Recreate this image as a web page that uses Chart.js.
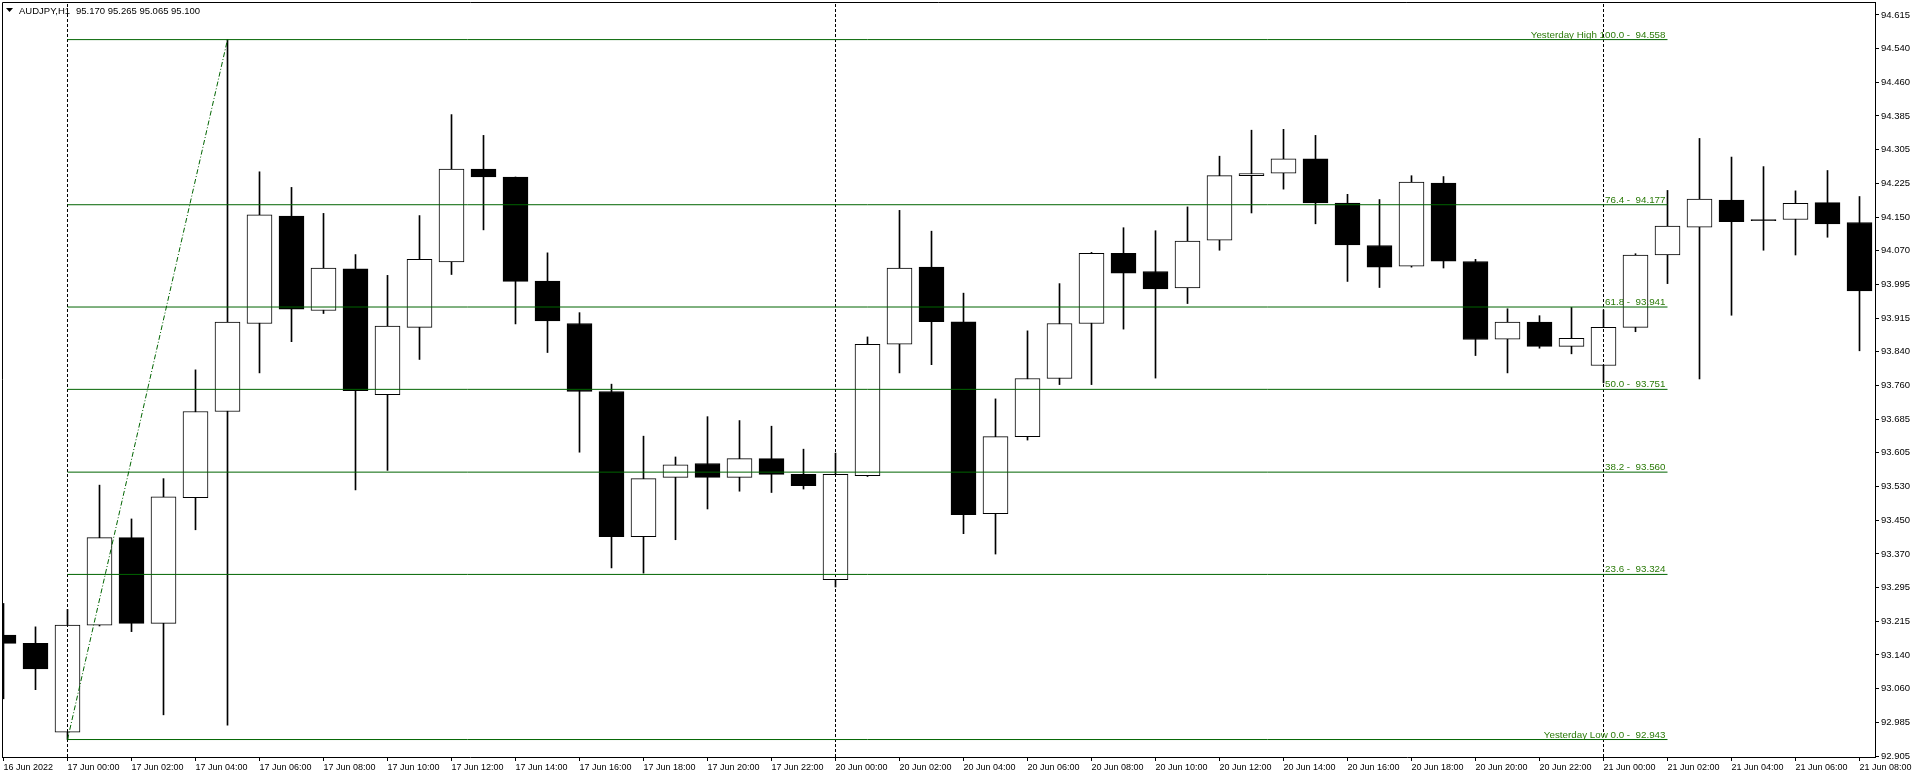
<!DOCTYPE html>
<html>
<head>
<meta charset="utf-8">
<title>AUDJPY,H1</title>
<script src="https://cdn.jsdelivr.net/npm/chart.js@4.4.0/dist/chart.umd.min.js"></script>
<style>
  html, body { margin: 0; padding: 0; background: #fff; }
  canvas { display: block; }
</style>
</head>
<body>
<canvas id="candles" width="1916" height="778"></canvas>
<script>
const symbol = 'AUDJPY,H1';
const lastQuote = '95.170 95.265 95.065 95.100';

// hourly bars, 16 Jun 22:00 -> 21 Jun 08:00
const opens = [
    93.184, 93.165, 92.960, 93.207, 93.409, 93.211, 93.501, 93.700, 93.903, 94.151,
    93.933, 94.029, 93.739, 93.894, 94.045, 94.259, 94.241, 94.001, 93.903, 93.746,
    93.411, 93.548, 93.580, 93.548, 93.591, 93.555, 93.312, 93.552, 93.855, 94.033,
    93.907, 93.464, 93.642, 93.776, 93.903, 94.065, 94.023, 93.985, 94.095, 94.244,
    94.250, 94.283, 94.181, 94.083, 94.035, 94.227, 94.046, 93.867, 93.906, 93.850,
    93.806, 93.894, 94.061, 94.125, 94.188, 94.143, 94.143, 94.182, 94.136
];
const highs = [
    93.257, 93.203, 93.243, 93.530, 93.452, 93.545, 93.796, 94.558, 94.253, 94.217,
    94.157, 94.062, 94.014, 94.152, 94.385, 94.337, 94.241, 94.066, 93.928, 93.763,
    93.643, 93.595, 93.688, 93.679, 93.666, 93.613, 93.604, 93.872, 94.164, 94.116,
    93.973, 93.729, 93.886, 93.995, 94.067, 94.124, 94.117, 94.172, 94.289, 94.349,
    94.351, 94.337, 94.201, 94.189, 94.244, 94.242, 94.051, 93.937, 93.921, 93.940,
    93.934, 94.064, 94.210, 94.330, 94.287, 94.265, 94.209, 94.256, 94.196
];
const lows = [
    93.037, 93.058, 92.943, 93.205, 93.192, 93.000, 93.427, 92.976, 93.789, 93.861,
    93.926, 93.519, 93.564, 93.820, 94.016, 94.119, 93.902, 93.836, 93.606, 93.339,
    93.327, 93.404, 93.475, 93.516, 93.513, 93.521, 93.295, 93.550, 93.789, 93.808,
    93.418, 93.371, 93.634, 93.762, 93.762, 93.890, 93.777, 93.949, 94.072, 94.158,
    94.213, 94.133, 94.000, 93.986, 94.033, 94.031, 93.829, 93.789, 93.846, 93.833,
    93.766, 93.884, 93.995, 93.775, 93.922, 94.072, 94.061, 94.102, 93.840
];
const closes = [
    93.165, 93.106, 93.207, 93.409, 93.211, 93.503, 93.700, 93.906, 94.154, 93.936,
    94.031, 93.748, 93.897, 94.051, 94.259, 94.241, 94.000, 93.909, 93.746, 93.411,
    93.545, 93.577, 93.548, 93.591, 93.555, 93.529, 93.555, 93.855, 94.031, 93.907,
    93.462, 93.642, 93.776, 93.903, 94.065, 94.019, 93.983, 94.093, 94.244, 94.249,
    94.283, 94.181, 94.084, 94.033, 94.229, 94.047, 93.866, 93.906, 93.850, 93.869,
    93.894, 94.061, 94.128, 94.190, 94.138, 94.140, 94.180, 94.133, 93.978
];

// one label every 2 bars
const xTickLabels = [
    '16 Jun 2022', '17 Jun 00:00', '17 Jun 02:00', '17 Jun 04:00', '17 Jun 06:00',
    '17 Jun 08:00', '17 Jun 10:00', '17 Jun 12:00', '17 Jun 14:00', '17 Jun 16:00',
    '17 Jun 18:00', '17 Jun 20:00', '17 Jun 22:00', '20 Jun 00:00', '20 Jun 02:00',
    '20 Jun 04:00', '20 Jun 06:00', '20 Jun 08:00', '20 Jun 10:00', '20 Jun 12:00',
    '20 Jun 14:00', '20 Jun 16:00', '20 Jun 18:00', '20 Jun 20:00', '20 Jun 22:00',
    '21 Jun 00:00', '21 Jun 02:00', '21 Jun 04:00', '21 Jun 06:00', '21 Jun 08:00'
];
const yTickLabels = [
    '92.905', '92.985', '93.060', '93.140', '93.215', '93.295', '93.370', '93.450',
    '93.530', '93.605', '93.685', '93.760', '93.840', '93.915', '93.995', '94.070',
    '94.150', '94.225', '94.305', '94.385', '94.460', '94.540', '94.615'
];
const daySeparators = [2, 26, 50];

// fibo retracement of yesterday
const fibNames = ['Yesterday High ', '', '', '', '', '', 'Yesterday Low '];
const fibLevels = ['100.0', '76.4', '61.8', '50.0', '38.2', '23.6', '0.0'];
const fibPrices = [94.558, 94.177, 93.941, 93.751, 93.560, 93.324, 92.943];
const fibFrom = 2;
const fibTo = 52;
const swingLow = { bar: 2, price: 92.943 };
const swingHigh = { bar: 7, price: 94.558 };

const yMin = 92.9027;
const yMax = 94.6448;
const yBottom = parseFloat(yTickLabels[0]);
const yStep = (parseFloat(yTickLabels[yTickLabels.length - 1]) - yBottom) / (yTickLabels.length - 1);

const fibColor = '#006400';
const fibTextColor = '#2a7a08';
const font = '"Liberation Sans", Arial, sans-serif';

const overlay = {
    id: 'overlay',
    afterDatasetsDraw(chart) {
        const { ctx, chartArea: a, scales: { x, y } } = chart;
        ctx.save();
        // top + left frame
        ctx.strokeStyle = '#000';
        ctx.lineWidth = 1;
        ctx.beginPath();
        ctx.moveTo(a.left + 0.5, a.bottom);
        ctx.lineTo(a.left + 0.5, a.top + 0.5);
        ctx.lineTo(a.right, a.top + 0.5);
        ctx.stroke();

        // fibo level texts
        ctx.font = '9.8px ' + font;
        ctx.fillStyle = fibTextColor;
        ctx.textAlign = 'right';
        ctx.textBaseline = 'alphabetic';
        fibPrices.forEach((p, i) => {
            const text = fibNames[i] + fibLevels[i] + ' -  ' + p.toFixed(3);
            ctx.fillText(text, x.getPixelForValue(fibTo) - 2, Math.round(y.getPixelForValue(p)) - 2);
        });

        // header
        ctx.fillStyle = '#000';
        ctx.beginPath();
        ctx.moveTo(6, 8);
        ctx.lineTo(13, 8);
        ctx.lineTo(9.5, 12);
        ctx.closePath();
        ctx.fill();
        ctx.textAlign = 'left';
        ctx.font = '9.5px ' + font;
        ctx.fillText(symbol, 19, 14);
        ctx.fillText(lastQuote, 76, 14);
        ctx.restore();
    }
};

const datasets = [];

fibPrices.forEach((p) => {
    datasets.push({
        type: 'line',
        order: 0,
        data: [{ x: fibFrom, y: p }, { x: fibTo, y: p }],
        borderColor: fibColor,
        borderWidth: 1,
        pointRadius: 0
    });
});

datasets.push({
    type: 'line',
    order: 0,
    data: [{ x: swingLow.bar, y: swingLow.price }, { x: swingHigh.bar, y: swingHigh.price }],
    borderColor: fibColor,
    borderWidth: 1,
    borderDash: [5, 2, 1, 2],
    pointRadius: 0
});

daySeparators.forEach((d) => {
    datasets.push({
        type: 'line',
        order: 0,
        data: [{ x: d, y: yMin }, { x: d, y: yMax }],
        borderColor: '#000',
        borderWidth: 1,
        borderDash: [3, 2],
        pointRadius: 0
    });
});

datasets.push({
    type: 'bar',
    order: 1,
    data: opens.map((o, i) => ({ x: i, y: [o, closes[i]] })),
    backgroundColor: opens.map((o, i) => closes[i] >= o ? '#ffffff' : '#000000'),
    borderColor: '#000000',
    borderWidth: 1,
    borderSkipped: false,
    barThickness: 25,
    grouped: false
});

datasets.push({
    type: 'bar',
    order: 2,
    data: highs.map((h, i) => ({ x: i, y: [lows[i], h] })),
    backgroundColor: '#000000',
    borderWidth: 0,
    barThickness: 1,
    grouped: false
});

new Chart(
    document.getElementById('candles'),
    {
        type: 'bar',
        data: { datasets: datasets },
        options: {
            responsive: false,
            devicePixelRatio: 1,
            animation: false,
            layout: { padding: { left: 2, top: 2, right: 0, bottom: 0 } },
            scales: {
                x: {
                    type: 'linear',
                    offset: false,
                    min: -0.046875,
                    max: 58.484375,
                    afterBuildTicks: (scale) => {
                        scale.ticks = xTickLabels.map((t, i) => ({ value: i * 2 }));
                    },
                    afterFit: (scale) => {
                        scale.height = 21;
                        scale.paddingLeft = 0;
                        scale.paddingRight = 0;
                    },
                    ticks: {
                        autoSkip: false,
                        maxRotation: 0,
                        align: 'start',
                        padding: 1,
                        color: '#000',
                        font: { family: font, size: 9 },
                        callback: (v, i) => xTickLabels[i]
                    },
                    grid: { offset: false, drawOnChartArea: false, tickLength: 4, color: '#000' },
                    border: { color: '#000' }
                },
                y: {
                    position: 'right',
                    min: yMin,
                    max: yMax,
                    afterBuildTicks: (scale) => {
                        scale.ticks = yTickLabels.map((t, i) => ({ value: yBottom + i * yStep }));
                    },
                    afterFit: (scale) => {
                        scale.width = 41;
                        scale.paddingTop = 0;
                        scale.paddingBottom = 0;
                    },
                    ticks: {
                        autoSkip: false,
                        padding: 2,
                        color: '#000',
                        font: { family: font, size: 9.5 },
                        callback: (v, i) => yTickLabels[i]
                    },
                    grid: { drawOnChartArea: false, tickLength: 4, color: '#000' },
                    border: { color: '#000' }
                }
            },
            plugins: {
                legend: { display: false },
                tooltip: { enabled: false }
            }
        },
        plugins: [overlay]
    }
);
</script>
</body>
</html>
